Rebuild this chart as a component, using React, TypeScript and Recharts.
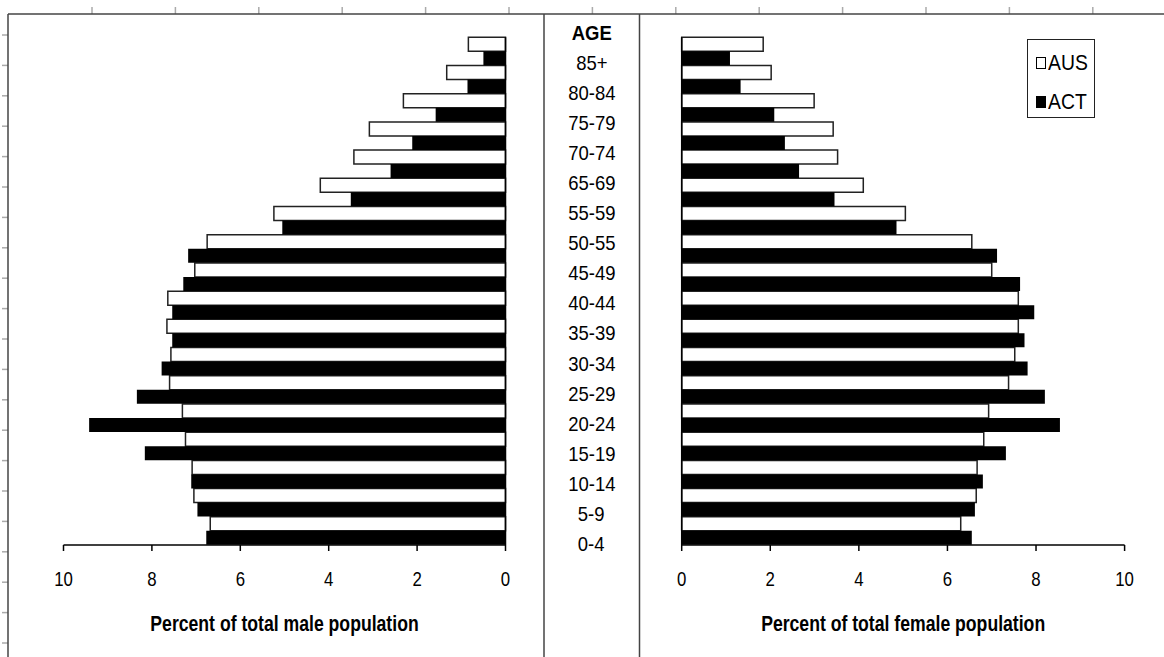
import { BarChart, Bar, XAxis, YAxis, Legend } from 'recharts';

const FONT = "'Liberation Sans', Arial, sans-serif";

// age groups, youngest first (the chart shows 85+ at the top)
const ages = ['0-4', '5-9', '10-14', '15-19', '20-24', '25-29', '30-34', '35-39', '40-44', '45-49', '50-54', '55-59', '60-64', '65-69', '70-74', '75-79', '80-84', '85+'];

const maleAus = [6.68, 7.05, 7.09, 7.24, 7.31, 7.6, 7.57, 7.66, 7.64, 7.03, 6.75, 5.24, 4.19, 3.43, 3.08, 2.31, 1.33, 0.84];
const maleAct = [6.77, 6.97, 7.11, 8.16, 9.42, 8.34, 7.78, 7.54, 7.54, 7.29, 7.18, 5.05, 3.5, 2.6, 2.11, 1.58, 0.86, 0.5];
const femaleAus = [6.3, 6.65, 6.67, 6.82, 6.93, 7.38, 7.52, 7.6, 7.6, 7.0, 6.55, 5.05, 4.1, 3.52, 3.42, 2.99, 2.02, 1.84];
const femaleAct = [6.55, 6.62, 6.8, 7.32, 8.54, 8.2, 7.81, 7.74, 7.96, 7.64, 7.12, 4.85, 3.45, 2.65, 2.33, 2.09, 1.33, 1.09];

// the label column as printed in the original (60-64 is missing there)
const centerLabels = ['AGE', '85+', '80-84', '75-79', '70-74', '65-69', '55-59', '50-55', '45-49', '40-44', '35-39', '30-34', '25-29', '20-24', '15-19', '10-14', '5-9', '0-4'];
const legendOrder = ['AUS', 'ACT'];

const xTicks = [0, 2, 4, 6, 8, 10];
const bandTicks = Array.from({ length: ages.length + 1 }, (_, i) => i);

const maleData = ages.map((age, i) => ({ age, aus: maleAus[i], act: maleAct[i] }));
const femaleData = ages.map((age, i) => ({ age, aus: femaleAus[i], act: femaleAct[i] }));

// the original uses a narrow face; squeeze Liberation Sans horizontally
function NarrowTick({ x, y, payload }: any) {
  return (
    <text
      transform={`translate(${x},${y}) scale(0.8,1)`}
      textAnchor="middle"
      dy="0.71em"
      fontSize={21}
      fontFamily={FONT}
      fill="#000"
    >
      {payload.value}
    </text>
  );
}

function axisTitle(text: string) {
  return ({ viewBox }: any) => {
    const cx = viewBox.x + viewBox.width / 2;
    const cy = viewBox.y + 71;
    return (
      <text
        transform={`translate(${cx},${cy}) scale(0.82,1)`}
        textAnchor="middle"
        dy="0.71em"
        fontSize={21.5}
        fontWeight="bold"
        fontFamily={FONT}
        fill="#000"
      >
        {text}
      </text>
    );
  };
}

function LegendBox({ payload }: any) {
  const items = (payload || []).slice().sort((a: any, b: any) => legendOrder.indexOf(a.value) - legendOrder.indexOf(b.value));
  return (
    <div
      style={{
        width: 68,
        height: 79,
        boxSizing: 'border-box',
        border: '1.5px solid #222',
        background: '#fff',
        fontFamily: FONT,
        fontSize: 22,
        paddingTop: 3,
      }}
    >
      {items.map((it: any) => (
        <div key={it.value} style={{ display: 'flex', alignItems: 'center', height: 39, lineHeight: '39px' }}>
          <span
            style={{
              display: 'inline-block',
              width: 10,
              height: 12,
              marginLeft: 8,
              marginRight: 2,
              boxSizing: 'border-box',
              border: '1.5px solid #000',
              background: it.payload?.fill ?? it.color,
            }}
          />
          <span style={{ display: 'inline-block', transform: 'scaleX(0.88)', transformOrigin: 'left center' }}>{it.value}</span>
        </div>
      ))}
    </div>
  );
}

export default function App() {
  return (
    <div style={{ position: 'absolute', left: 0, top: 0, width: 1164, height: 657, background: '#fff', fontFamily: FONT, overflow: 'hidden' }}>
      {/* frame remnants */}
      <svg width={1164} height={657} style={{ position: 'absolute', left: 0, top: 0 }}>
        {Array.from({ length: 13 }, (_, k) => (
          <line key={'t' + k} x1={92 + k * 83.4} x2={92 + k * 83.4} y1={7} y2={14} stroke="#aaa" strokeWidth={1.5} />
        ))}
        {Array.from({ length: 21 }, (_, k) => (
          <line key={'l' + k} x1={2} x2={8} y1={643 - k * 30.4} y2={643 - k * 30.4} stroke="#aaa" strokeWidth={1.5} />
        ))}
        <line x1={8} x2={1164} y1={14} y2={14} stroke="#444" strokeWidth={1.5} />
        <line x1={8} x2={8} y1={14} y2={657} stroke="#444" strokeWidth={1.5} />
        <line x1={544} x2={544} y1={14} y2={657} stroke="#444" strokeWidth={1.5} />
        <line x1={639.5} x2={639.5} y1={14} y2={657} stroke="#444" strokeWidth={1.5} />
      </svg>

      <div style={{ position: 'absolute', left: 0, top: 0 }}>
        <BarChart
          width={540}
          height={657}
          data={maleData}
          layout="vertical"
          barCategoryGap={0}
          barGap={0}
          margin={{ top: 37.3, right: 24.5, bottom: 22, left: 63.5 }}
        >
          <XAxis
            type="number"
            domain={[0, 10]}
            ticks={xTicks}
            reversed
            height={90}
            tickSize={6}
            tickMargin={20}
            tick={<NarrowTick />}
            axisLine={{ stroke: '#000', strokeWidth: 1.5 }}
            tickLine={{ stroke: '#000', strokeWidth: 1.5 }}
            label={{ position: 'insideTop', content: axisTitle('Percent of total male population') }}
          />
          <YAxis type="category" dataKey="age" reversed hide width={0} />
          <YAxis
            yAxisId="band"
            type="number"
            orientation="right"
            domain={[0, ages.length]}
            ticks={bandTicks}
            width={10}
            tickSize={4}
            tick={false}
            axisLine={{ stroke: '#000', strokeWidth: 1.5 }}
            tickLine={{ stroke: '#000', strokeWidth: 1.5 }}
          />
          <Bar dataKey="aus" name="AUS" fill="#fff" stroke="#222" strokeWidth={1.5} isAnimationActive={false} />
          <Bar dataKey="act" name="ACT" fill="#000" isAnimationActive={false} />
        </BarChart>
      </div>

      <div style={{ position: 'absolute', left: 540, top: 0 }}>
        <BarChart
          width={624}
          height={657}
          data={femaleData}
          layout="vertical"
          barCategoryGap={0}
          barGap={0}
          margin={{ top: 37.3, right: 39.4, bottom: 22, left: 131.7 }}
        >
          <XAxis
            type="number"
            domain={[0, 10]}
            ticks={xTicks}
            height={90}
            tickSize={6}
            tickMargin={20}
            tick={<NarrowTick />}
            axisLine={{ stroke: '#000', strokeWidth: 1.5 }}
            tickLine={{ stroke: '#000', strokeWidth: 1.5 }}
            label={{ position: 'insideTop', content: axisTitle('Percent of total female population') }}
          />
          <YAxis type="category" dataKey="age" reversed hide width={0} orientation="right" />
          <YAxis
            yAxisId="band"
            type="number"
            orientation="left"
            domain={[0, ages.length]}
            ticks={bandTicks}
            width={10}
            tickSize={4}
            tick={false}
            axisLine={{ stroke: '#000', strokeWidth: 1.5 }}
            tickLine={{ stroke: '#000', strokeWidth: 1.5 }}
          />
          <Legend
            layout="horizontal"
            verticalAlign="middle"
            align="center"
            content={<LegendBox />}
            wrapperStyle={{ position: 'absolute', left: 487, top: 39, width: 68, height: 79 }}
          />
          <Bar dataKey="aus" name="AUS" fill="#fff" stroke="#222" strokeWidth={1.5} isAnimationActive={false} />
          <Bar dataKey="act" name="ACT" fill="#000" isAnimationActive={false} />
        </BarChart>
      </div>

      {/* age label column between the two panels */}
      <div style={{ position: 'absolute', left: 544, top: 18, width: 95, fontSize: 21, color: '#000', textAlign: 'center' }}>
        {centerLabels.map((lab, i) => (
          <div key={lab} style={{ height: 30.06, lineHeight: '30px', fontWeight: i === 0 ? 'bold' : 'normal' }}>
            <span style={{ display: 'inline-block', transform: 'scaleX(0.88)' }}>{lab}</span>
          </div>
        ))}
      </div>
    </div>
  );
}
